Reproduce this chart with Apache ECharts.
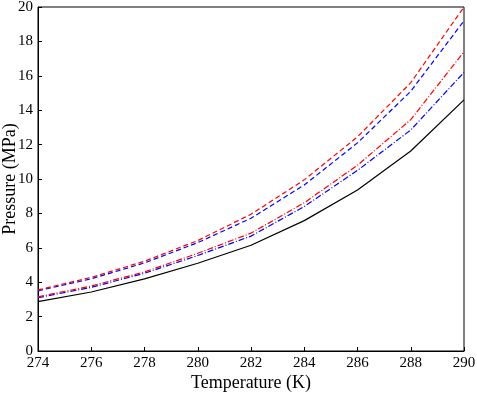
<!DOCTYPE html>
<html>
<head>
<meta charset="utf-8">
<script src="https://cdn.jsdelivr.net/npm/echarts@6/dist/echarts.min.js"></script>
<style>
html,body{margin:0;padding:0;background:#fff;}
#chart{width:477px;height:398px;}
</style>
</head>
<body>
<div id="chart"></div>
<script>
// 温度 (K)
var temps = [274, 276, 278, 280, 282, 284, 286, 288, 290];
// 压力 (MPa)
var blackSolid   = [2.87, 3.43, 4.19, 5.10, 6.15, 7.58, 9.36, 11.63, 14.6];
var blueDashDot  = [3.10, 3.70, 4.52, 5.55, 6.68, 8.40, 10.50, 12.85, 16.2];
var redDashDot   = [3.15, 3.78, 4.60, 5.68, 6.85, 8.62, 10.80, 13.45, 17.4];
var blueDashed   = [3.50, 4.20, 5.12, 6.30, 7.72, 9.65, 12.10, 15.10, 19.2];
var redDashed    = [3.55, 4.28, 5.22, 6.42, 7.95, 9.95, 12.45, 15.60, 20.0];

function pairs(vals){
	var out = [];
	for(var i=0;i<temps.length;i++){
		out.push([temps[i], vals[i]]);
	}
	return out;
}

function mkLine(vals, color, type){
	return {
		type: 'line',
		data: pairs(vals),
		showSymbol: false,
		symbol: 'none',
		smooth: false,
		animation: false,
		lineStyle: {color: color, width: 1.2, type: type}
	};
}

var font = 'Liberation Serif';
var chart = echarts.init(document.getElementById('chart'));
var option = {
	backgroundColor: '#fff',
	grid: {
		left: 38, right: 13, top: 7, bottom: 47,
		outerBoundsMode: 'none',
		containLabel: false,
		show: true, borderColor: '#000', borderWidth: 1
	},
	xAxis: {
		type: 'value',
		min: 274, max: 290, interval: 2,
		name: 'Temperature (K)',
		nameLocation: 'middle',
		nameGap: 23,
		nameMoveOverlap: false,
		nameTextStyle: {color: '#000', fontSize: 18, fontFamily: font},
		axisLine: {show: true, lineStyle: {color: '#000', width: 1}},
		axisTick: {show: true, inside: true, length: 4, lineStyle: {color: '#000'}},
		axisLabel: {color: '#000', fontSize: 15, fontFamily: font, margin: 5},
		splitLine: {show: false}
	},
	yAxis: {
		type: 'value',
		min: 0, max: 20, interval: 2,
		name: 'Pressure (MPa)',
		nameLocation: 'middle',
		nameGap: 19,
		nameMoveOverlap: false,
		nameRotate: 90,
		nameTextStyle: {color: '#000', fontSize: 18, fontFamily: font},
		axisLine: {show: true, lineStyle: {color: '#000', width: 1}},
		axisTick: {show: true, inside: true, length: 4, lineStyle: {color: '#000'}},
		axisLabel: {color: '#000', fontSize: 15, fontFamily: font, margin: 5},
		splitLine: {show: false}
	},
	series: [
		mkLine(blackSolid, '#000000', 'solid'),
		mkLine(blueDashDot, '#0000ff', [6, 2, 1, 2]),
		mkLine(redDashDot, '#ff0000', [6, 2, 1, 2]),
		mkLine(blueDashed, '#0000ff', [5, 3]),
		mkLine(redDashed, '#ff0000', [5, 3])
	]
};
chart.setOption(option);
</script>
</body>
</html>
